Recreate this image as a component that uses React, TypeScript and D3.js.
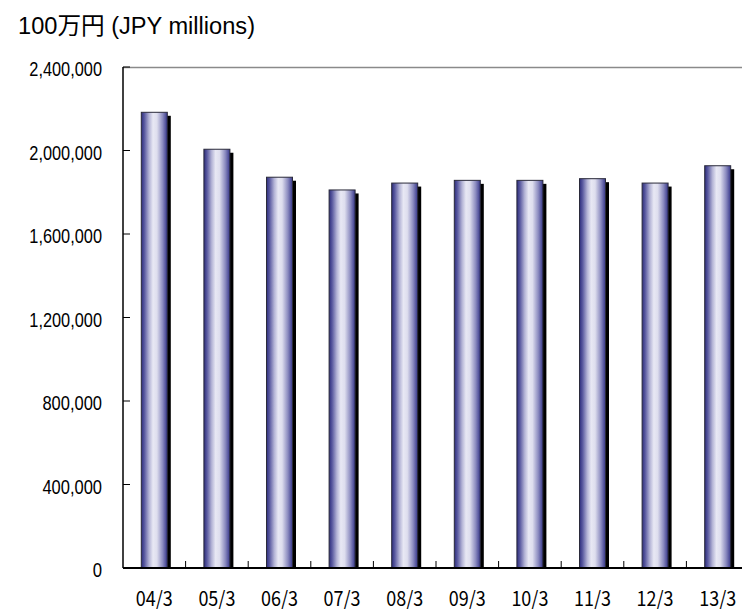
import React from "react";
import * as d3 from "d3";

const categories = ["04/3", "05/3", "06/3", "07/3", "08/3", "09/3", "10/3", "11/3", "12/3", "13/3"];
const values = [2183000, 2006000, 1872000, 1811000, 1844000, 1857000, 1857000, 1865000, 1844000, 1927000];
const yTicks = [0, 400000, 800000, 1200000, 1600000, 2000000, 2400000];
const titleText = "100万円 (JPY millions)";

const W = 742;
const H = 609;
const left = 123;
const top = 67;
const bottom = 568;
const bandW = 62.6;

export default function App() {
  const x = d3
    .scaleBand<string>()
    .domain(categories)
    .range([left, left + bandW * categories.length])
    .paddingInner(0)
    .paddingOuter(0);
  const y = d3.scaleLinear().domain([0, 2400000]).range([bottom, top]);
  const barW = 26;
  const fmt = d3.format(",");
  const off = 3.5;
  const labelW = (t: number) => {
    const s = fmt(t);
    const commas = s.split(",").length - 1;
    return (s.length - commas) * 9.3 + commas * 3.8;
  };

  return (
    <div style={{ position: "absolute", left: 0, top: 0, width: W, height: H, background: "#fff" }}>
      <svg width={W} height={H} style={{ display: "block" }}>
        <defs>
          <linearGradient id="barGrad" x1="0" x2="1" y1="0" y2="0">
            <stop offset="0" stopColor="#2c2c7c" />
            <stop offset="0.12" stopColor="#5a5aa0" />
            <stop offset="0.3" stopColor="#b4b4d6" />
            <stop offset="0.45" stopColor="#e8e8f4" />
            <stop offset="0.6" stopColor="#dedeee" />
            <stop offset="0.82" stopColor="#8c8cc0" />
            <stop offset="1" stopColor="#36368a" />
          </linearGradient>
          <clipPath id="plotClip">
            <rect x={left} y={top} width={W - left} height={bottom - top} />
          </clipPath>
        </defs>
        <text
          x={18}
          y={33.5}
          fontFamily="'Liberation Sans', Arial, 'Noto Sans CJK JP', sans-serif"
          fontSize={23.5}
          textLength={237}
          lengthAdjust="spacingAndGlyphs"
          fill="#000"
        >
          {titleText}
        </text>

        {/* top frame line */}
        <line x1={left} x2={W} y1={top + 0.5} y2={top + 0.5} stroke="#8a8a8a" strokeWidth={1.5} />

        {/* bars */}
        <g clipPath="url(#plotClip)">
          {categories.map((c, i) => {
            const cx = (x(c) as number) + x.bandwidth() / 2;
            const bx = cx - barW / 2;
            const by = y(values[i]);
            return (
              <g key={c}>
                <rect x={bx + off} y={by + off} width={barW} height={bottom - by - off} fill="#000" />
                <rect
                  x={bx}
                  y={by}
                  width={barW}
                  height={bottom - by}
                  fill="url(#barGrad)"
                  stroke="#2a2a3a"
                  strokeWidth={1}
                />
              </g>
            );
          })}
        </g>

        {/* y axis */}
        <line x1={left} x2={left} y1={top} y2={bottom} stroke="#000" strokeWidth={1.5} />
        {yTicks.map((t) => (
          <g key={t}>
            <line x1={left} x2={left + 7} y1={y(t)} y2={y(t)} stroke="#000" strokeWidth={1} />
            <text
              x={102}
              y={y(t) + 9}
              textAnchor="end"
              fontFamily="'Liberation Sans', Arial, sans-serif"
              fontSize={19.5}
              textLength={labelW(t)}
              lengthAdjust="spacingAndGlyphs"
              fill="#000"
            >
              {fmt(t)}
            </text>
          </g>
        ))}

        {/* x axis */}
        <line x1={left} x2={W} y1={bottom} y2={bottom} stroke="#000" strokeWidth={1.8} />
        {categories.slice(1).map((c) => (
          <line
            key={"t" + c}
            x1={x(c) as number}
            x2={x(c) as number}
            y1={bottom}
            y2={bottom - 7}
            stroke="#000"
            strokeWidth={1}
          />
        ))}
        {categories.map((c) => (
          <text
            key={"l" + c}
            x={(x(c) as number) + x.bandwidth() / 2}
            y={605.5}
            textAnchor="middle"
            fontFamily="'Noto Sans CJK JP', sans-serif"
            fontSize={20.5}
            textLength={37}
            lengthAdjust="spacingAndGlyphs"
            fill="#000"
          >
            {c}
          </text>
        ))}
      </svg>
    </div>
  );
}
